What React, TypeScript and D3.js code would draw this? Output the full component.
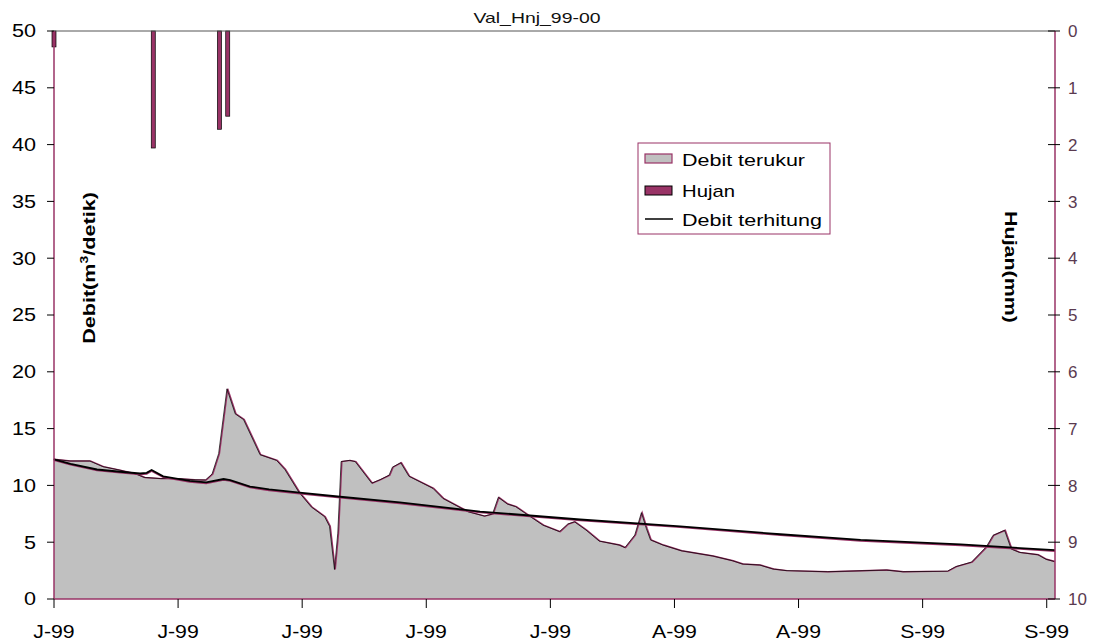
import * as d3 from 'd3'

// measured discharge (Debit terukur), day offset from 1 Jun 1999 -> m3/s
const measuredDays = [
    0, 2, 4.4, 6, 8, 10, 11, 13, 15, 17, 18.4, 19.2, 20, 21, 22, 23, 25, 27, 28,
    29.7, 31.2, 32.8, 33.4, 34, 34.4, 34.8, 35.8, 36.5, 38.5, 39.5, 40.6, 41, 42,
    43, 45.9, 47.1, 50.1, 52.1, 53.1, 53.8, 54.9, 55.9, 57.2, 59.2, 61.2, 62.2,
    63, 64.4, 66, 68.4, 69.1, 70.3, 71.1, 71.7, 72.2, 73.7, 75.9, 79.7, 82.1,
    83.3, 85.4, 87, 88.6, 93.6, 100.7, 102.7, 108.1, 109.1, 111, 112.8, 113.6,
    115, 115.8, 116.8, 119, 120, 121,
]
const measuredFlow = [
    12.3, 12.15, 12.15, 11.65, 11.35, 11.0, 10.7, 10.6, 10.6, 10.5, 10.47, 11.0,
    12.8, 18.5, 16.3, 15.8, 12.7, 12.2, 11.4, 9.4, 8.1, 7.25, 6.4, 2.6, 5.8,
    12.1, 12.2, 12.1, 10.2, 10.5, 10.9, 11.6, 12.0, 10.8, 9.74, 8.86, 7.69, 7.3,
    7.48, 8.95, 8.36, 8.13, 7.48, 6.5, 5.93, 6.6, 6.8, 6.07, 5.1, 4.75, 4.52,
    5.63, 7.6, 6.2, 5.2, 4.75, 4.25, 3.79, 3.37, 3.08, 2.99, 2.64, 2.5, 2.4,
    2.55, 2.4, 2.45, 2.85, 3.25, 4.6, 5.6, 6.05, 4.4, 4.1, 3.9, 3.5, 3.3,
]

// computed discharge (Debit terhitung)
const computedDays = [
    0, 2, 5.2, 8, 10.4, 11.2, 11.8, 13.2, 16.4, 18.4, 20.5, 21.3, 23.7, 26, 29.7,
    34.6, 41.8, 51.5, 63.6, 75.7, 87.8, 97.5, 109.6, 121,
]
const computedFlow = [
    12.3, 11.9, 11.4, 11.2, 11.05, 11.1, 11.35, 10.8, 10.4, 10.27, 10.56, 10.47,
    9.9, 9.65, 9.36, 9.0, 8.5, 7.7, 7.0, 6.4, 5.7, 5.2, 4.8, 4.3,
]

// rainfall (Hujan), mm
const rainDays = [0, 12, 20, 21]
const rainMm = [0.28, 2.06, 1.73, 1.5]

const flowTicks = [0, 5, 10, 15, 20, 25, 30, 35, 40, 45, 50]
const rainTicks = [0, 1, 2, 3, 4, 5, 6, 7, 8, 9, 10]
const tickDays = [0, 15, 30, 45, 60, 75, 90, 105, 120]

const START = new Date(1999, 5, 1)
const dayToDate = (d: number) => new Date(START.getTime() + d * 864e5)

const MAGENTA = '#993366'
const FONT = 'Liberation Sans, Arial, sans-serif'

const App = () => {
    const width = 1095
    const height = 644
    const left = 54
    const right = 1055
    const top = 31
    const bottom = 599

    const x = d3
        .scaleTime()
        .domain([START, dayToDate(121)])
        .range([left, right])
    const y = d3.scaleLinear().domain([0, 50]).range([bottom, top])
    const yRain = d3.scaleLinear().domain([0, 10]).range([top, bottom])

    const measured = measuredDays.map((d, i) => ({ date: dayToDate(d), v: measuredFlow[i] }))
    const computed = computedDays.map((d, i) => ({ date: dayToDate(d), v: computedFlow[i] }))

    const area = d3
        .area<{ date: Date; v: number }>()
        .x(d => x(d.date))
        .y0(y(0))
        .y1(d => y(d.v))
    const line = d3
        .line<{ date: Date; v: number }>()
        .x(d => x(d.date))
        .y(d => y(d.v))

    const fmtMonth = d3.timeFormat('%b')
    const fmtYear = d3.timeFormat('%y')
    const tickLabel = (d: Date) => fmtMonth(d)[0] + '-' + fmtYear(d)

    return (
        <svg
            width={width}
            height={height}
            style={{ position: 'absolute', left: 0, top: 0, background: '#fff' }}
            fontFamily={FONT}
        >
            <text
                x={537}
                y={23}
                textAnchor='middle'
                fontSize={15}
                fill='#111'
                textLength={127}
                lengthAdjust='spacingAndGlyphs'
            >
                Val_Hnj_99-00
            </text>

            {/* measured area */}
            <path d={area(measured) || ''} fill='#c0c0c0' stroke='none' />
            <path d={line(measured) || ''} fill='none' stroke={MAGENTA} strokeWidth={1.4} />
            <path
                d={line(measured) || ''}
                fill='none'
                stroke='#000'
                strokeWidth={0.7}
                transform='translate(-0.8,0)'
            />

            {/* computed line */}
            <path
                d={line(computed) || ''}
                fill='none'
                stroke={MAGENTA}
                strokeWidth={1.8}
                transform='translate(0,0.9)'
            />
            <path d={line(computed) || ''} fill='none' stroke='#000' strokeWidth={1.8} />

            {/* rain bars hanging from top */}
            {rainDays.map((d, i) => (
                <rect
                    key={i}
                    x={x(dayToDate(d)) - 2}
                    y={yRain(0)}
                    width={4}
                    height={yRain(rainMm[i]) - yRain(0)}
                    fill={MAGENTA}
                    stroke='#000'
                    strokeWidth={0.7}
                />
            ))}

            {/* frame */}
            <line x1={left} x2={right} y1={top} y2={top} stroke='#555' strokeWidth={1} />
            <line x1={left} x2={right} y1={bottom} y2={bottom} stroke={MAGENTA} strokeWidth={1.5} />
            <line x1={left} x2={left} y1={top} y2={bottom} stroke={MAGENTA} strokeWidth={1.5} />
            <line x1={right} x2={right} y1={top} y2={bottom} stroke={MAGENTA} strokeWidth={1.5} />

            {/* left axis */}
            {flowTicks.map(t => (
                <g key={t}>
                    <line x1={left - 7} x2={left} y1={y(t)} y2={y(t)} stroke='#000' />
                    <text
                        transform={`translate(36,${y(t)}) scale(1.2,1)`}
                        dy='0.36em'
                        textAnchor='end'
                        fontSize={18}
                        fill='#000'
                    >
                        {t}
                    </text>
                </g>
            ))}
            <text
                transform={`translate(95,268) rotate(-90) scale(1.27,1)`}
                textAnchor='middle'
                fontSize={17}
                fontWeight='bold'
                fill='#000'
            >
                Debit(m
                <tspan dy={-7} fontSize={11}>
                    3
                </tspan>
                <tspan dy={7}>/detik)</tspan>
            </text>

            {/* right axis */}
            {rainTicks.map(t => (
                <g key={t}>
                    <line x1={right - 7} x2={right + 5} y1={yRain(t)} y2={yRain(t)} stroke='#000' />
                    <text x={1068} y={yRain(t)} dy='0.36em' fontSize={17} fill='#5a3a50'>
                        {t}
                    </text>
                </g>
            ))}
            <text
                transform={`translate(1005,267) rotate(90) scale(1.26,1)`}
                textAnchor='middle'
                fontSize={17}
                fontWeight='bold'
                fill='#000'
            >
                Hujan(mm)
            </text>

            {/* bottom axis */}
            {tickDays.map(d => {
                const dt = dayToDate(d)
                return (
                    <g key={d}>
                        <line x1={x(dt)} x2={x(dt)} y1={bottom} y2={bottom + 9} stroke='#000' />
                        <text
                            transform={`translate(${x(dt)},638) scale(1.12,1)`}
                            textAnchor='middle'
                            fontSize={19}
                            fill='#000'
                        >
                            {tickLabel(dt)}
                        </text>
                    </g>
                )
            })}

            {/* legend */}
            <rect x={638} y={143} width={192} height={91} fill='#fff' stroke={MAGENTA} strokeWidth={1} />
            <rect x={645} y={154} width={27} height={9} fill='#c0c0c0' stroke={MAGENTA} strokeWidth={1.2} />
            <text
                x={682}
                y={166}
                fontSize={17}
                fill='#000'
                textLength={123}
                lengthAdjust='spacingAndGlyphs'
            >
                Debit terukur
            </text>
            <rect x={645} y={186} width={27} height={9} fill={MAGENTA} stroke='#000' strokeWidth={1} />
            <text
                x={682}
                y={197}
                fontSize={17}
                fill='#000'
                textLength={53}
                lengthAdjust='spacingAndGlyphs'
            >
                Hujan
            </text>
            <line x1={645} x2={673} y1={219} y2={219} stroke='#000' strokeWidth={1.5} />
            <text
                x={682}
                y={226}
                fontSize={17}
                fill='#000'
                textLength={140}
                lengthAdjust='spacingAndGlyphs'
            >
                Debit terhitung
            </text>
        </svg>
    )
}

export default App
